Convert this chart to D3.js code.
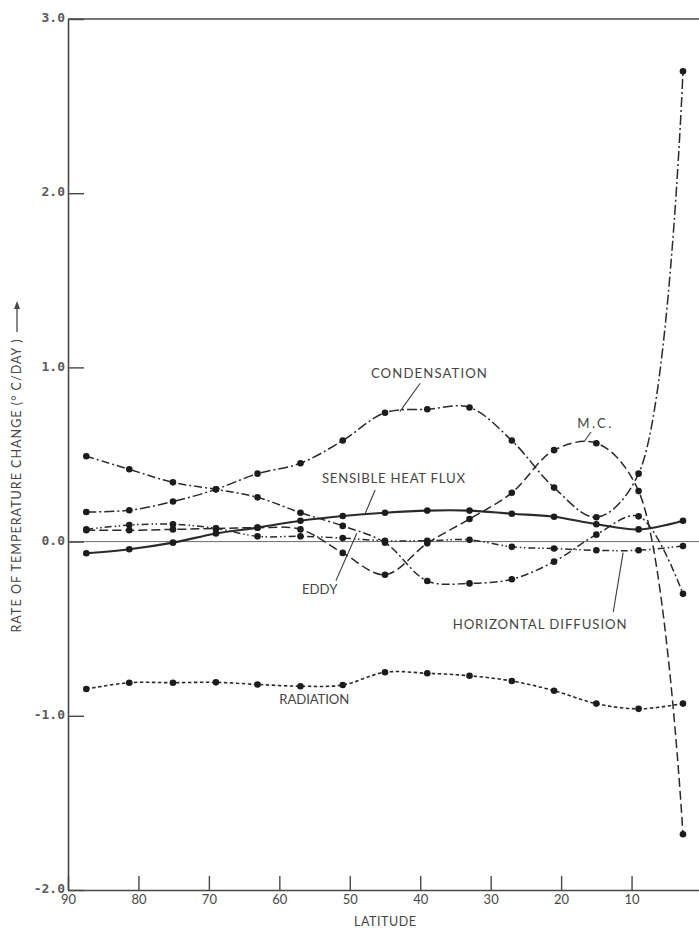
<!DOCTYPE html>
<html>
<head>
<meta charset="utf-8">
<script src="https://cdn.jsdelivr.net/npm/d3@7"></script>
<style>
  html, body { margin: 0; padding: 0; background: #ffffff; }
  svg { display: block; }
</style>
</head>
<body>
<svg id="chart" width="699" height="928"></svg>
<script>
// ---------------- data ----------------
const latitudes    = [87.4, 81.3, 75.1, 69.0, 63.1, 57.0, 51.0, 45.0, 39.0, 33.0, 27.0, 21.0, 15.0, 9.0, 2.7];
const condensation = [0.17, 0.18, 0.23, 0.30, 0.39, 0.45, 0.58, 0.74, 0.76, 0.77, 0.58, 0.31, 0.14, 0.39, 2.70];
const mc           = [0.065, 0.065, 0.07, 0.075, 0.08, 0.07, -0.065, -0.19, -0.01, 0.13, 0.28, 0.525, 0.565, 0.29, -1.68];
const sensibleHeat = [-0.067, -0.044, -0.006, 0.047, 0.08, 0.12, 0.147, 0.166, 0.178, 0.178, 0.16, 0.143, 0.10, 0.07, 0.12];
const eddy         = [0.49, 0.415, 0.34, 0.30, 0.254, 0.166, 0.09, -0.006, -0.226, -0.24, -0.216, -0.115, 0.04, 0.145, -0.30];
const horizDiff    = [0.07, 0.095, 0.10, 0.076, 0.03, 0.03, 0.02, 0.005, 0.005, 0.01, -0.03, -0.04, -0.05, -0.05, -0.025];
const radiation    = [-0.846, -0.81, -0.81, -0.808, -0.82, -0.83, -0.823, -0.75, -0.756, -0.77, -0.80, -0.856, -0.93, -0.96, -0.93];

const xTicks = [90, 80, 70, 60, 50, 40, 30, 20, 10];
const yTicks = [-2, -1, 0, 1, 2, 3];
const xTitle = "LATITUDE";
const yTitle = "RATE OF TEMPERATURE CHANGE (° C/DAY )";

// ---------------- layout ----------------
const svg = d3.select("#chart");
const x = d3.scaleLinear().domain([90, 0]).range([68, 702]);
const y = d3.scaleLinear().domain([-2, 3]).range([890, 19]);

const ink = "#2a2a2a";
const frame = "#474747";
const textGray = "#464646";

// zero line
svg.append("line")
  .attr("x1", x(90)).attr("x2", x(0))
  .attr("y1", y(0)).attr("y2", y(0))
  .attr("stroke", "#6a6a6a").attr("stroke-width", 1);

// top frame line
svg.append("line")
  .attr("x1", x(90)).attr("x2", x(0))
  .attr("y1", y(3)).attr("y2", y(3))
  .attr("stroke", frame).attr("stroke-width", 1.6);

// y axis
const yAxis = svg.append("g")
  .attr("transform", `translate(${x(90)},0)`)
  .call(d3.axisLeft(y).tickValues(yTicks).tickSizeInner(-16).tickSizeOuter(0).tickPadding(3)
        .tickFormat(d => d.toFixed(1)));
yAxis.select(".domain").attr("stroke", frame).attr("stroke-width", 1.6);
yAxis.selectAll(".tick line").attr("stroke", frame).attr("stroke-width", 1.4);
yAxis.selectAll(".tick text")
  .attr("font-family", "'DejaVu Sans Mono', monospace")
  .attr("font-weight", "bold")
  .attr("font-size", 13)
  .attr("fill", "#5a5a5a")
  .attr("dy", "0.2em");

// x axis
const xAxis = svg.append("g")
  .attr("transform", `translate(0,${y(-2)})`)
  .call(d3.axisBottom(x).tickValues(xTicks).tickSizeInner(-14).tickSizeOuter(0).tickPadding(5)
        .tickFormat(d3.format("d")));
xAxis.select(".domain").attr("stroke", frame).attr("stroke-width", 1.6);
xAxis.selectAll(".tick line").attr("stroke", frame).attr("stroke-width", 1.4);
xAxis.selectAll(".tick text")
  .attr("font-family", "Lato, 'DejaVu Sans', sans-serif")
  .attr("font-size", 13)
  .attr("fill", textGray);

// axis titles
svg.append("text")
  .attr("x", x(45)).attr("y", 926)
  .attr("text-anchor", "middle")
  .attr("font-family", "Lato, 'DejaVu Sans', sans-serif")
  .attr("font-size", 12.5)
  .attr("fill", textGray)
  .attr("textLength", 62).attr("lengthAdjust", "spacing")
  .text(xTitle);

const yTitleY = 486;
svg.append("text")
  .attr("transform", `translate(21,${yTitleY}) rotate(-90)`)
  .attr("text-anchor", "middle")
  .attr("font-family", "Lato, 'DejaVu Sans', sans-serif")
  .attr("font-size", 12.5)
  .attr("fill", textGray)
  .attr("textLength", 293).attr("lengthAdjust", "spacing")
  .text(yTitle);
// arrow after the y title
svg.append("line")
  .attr("x1", 17).attr("x2", 17).attr("y1", 332).attr("y2", 306)
  .attr("stroke", textGray).attr("stroke-width", 1.3);
svg.append("path")
  .attr("d", "M17,301 L14,309 L20,309 Z")
  .attr("fill", textGray);

// ---------------- series ----------------
const series = [
  { name: "CONDENSATION", values: condensation, dash: "10,3,2,3", width: 1.5 },
  { name: "M.C.", values: mc, dash: "9,4", width: 1.5 },
  { name: "SENSIBLE HEAT FLUX", values: sensibleHeat, dash: null, width: 2.1 },
  { name: "EDDY", values: eddy, dash: "8,3,2,3", width: 1.5 },
  { name: "HORIZONTAL DIFFUSION", values: horizDiff, dash: "7,3,1.5,2.5,1.5,3", width: 1.5 },
  { name: "RADIATION", values: radiation, dash: "3.5,2.5", width: 1.6 }
];

const line = d3.line()
  .x(d => x(d[0]))
  .y(d => y(d[1]))
  .curve(d3.curveCatmullRom.alpha(0.5));

series.forEach(s => {
  const pts = latitudes.map((la, i) => [la, s.values[i]]);
  svg.append("path")
    .datum(pts)
    .attr("d", line)
    .attr("fill", "none")
    .attr("stroke", ink)
    .attr("stroke-width", s.width)
    .attr("stroke-dasharray", s.dash);
  svg.append("g").selectAll("circle")
    .data(pts)
    .join("circle")
    .attr("cx", d => x(d[0]))
    .attr("cy", d => y(d[1]))
    .attr("r", 3.3)
    .attr("fill", "#1c1c1c");
});

// ---------------- annotations (in data units) ----------------
const annotations = [
  { text: "CONDENSATION", lat: 47.0, v: 0.942, len: 116, leader: [40.0, 0.909, 42.9, 0.746] },
  { text: "M.C.", lat: 17.7, v: 0.652, len: 34, leader: [15.75, 0.629, 16.75, 0.573] },
  { text: "SENSIBLE HEAT FLUX", lat: 53.95, v: 0.336, len: 143, leader: [46.4, 0.296, 47.8, 0.162] },
  { text: "EDDY", lat: 56.8, v: -0.30, len: 35.5, leader: [51.96, -0.224, 49.0, 0.048] },
  { text: "HORIZONTAL DIFFUSION", lat: 35.4, v: -0.499, len: 174, leader: [12.6, -0.404, 11.2, -0.063] },
  { text: "RADIATION", lat: 60.0, v: -0.935, len: 70, leader: null }
];

annotations.forEach(a => {
  svg.append("text")
    .attr("x", x(a.lat)).attr("y", y(a.v))
    .attr("font-family", "Lato, 'DejaVu Sans', sans-serif")
    .attr("font-size", 13.2)
    .attr("fill", textGray)
    .attr("textLength", a.len).attr("lengthAdjust", "spacing")
    .text(a.text);
  if (a.leader) {
    svg.append("line")
      .attr("x1", x(a.leader[0])).attr("y1", y(a.leader[1]))
      .attr("x2", x(a.leader[2])).attr("y2", y(a.leader[3]))
      .attr("stroke", "#3a3a3a").attr("stroke-width", 1.1);
  }
});
</script>
</body>
</html>
